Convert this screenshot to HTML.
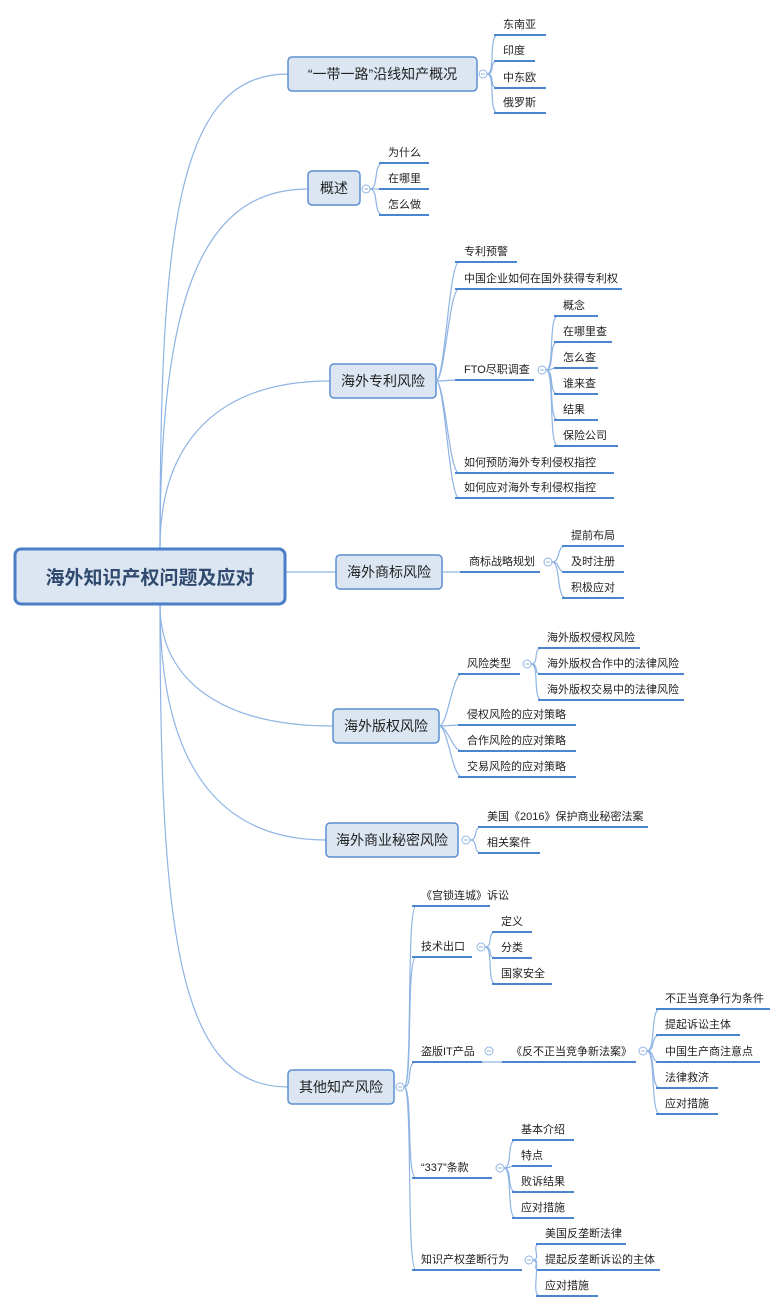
<!DOCTYPE html>
<html><head><meta charset="utf-8"><style>
html,body{margin:0;padding:0;background:#fff;}
svg{display:block;font-family:"Liberation Sans","Noto Sans CJK SC",sans-serif;}
</style></head><body>
<svg id="s" width="784" height="1309" xmlns="http://www.w3.org/2000/svg"></svg>
<script>
var s=document.getElementById('s'),NS='http://www.w3.org/2000/svg';
function el(t,a,txt){var e=document.createElementNS(NS,t);for(var k in a)e.setAttribute(k,a[k]);if(txt!==undefined)e.textContent=txt;s.appendChild(e);return e;}
var LC='#8fb4e3',UC='#4a86d0';
function path(d){el('path',{d:d,fill:'none',stroke:LC,'stroke-width':1.2});}
function conn(px,py,x1,uy){path('M'+px+' '+py+' C'+(px+9)+' '+py+','+(x1-6)+' '+uy+','+(x1+4)+' '+uy);}
function leaf(x1,x2,uy,t){el('line',{x1:x1,y1:uy,x2:x2,y2:uy,stroke:UC,'stroke-width':2});el('text',{x:x1+9,y:uy-7,'font-size':11,fill:'#222'},t);}
function circ(cx,cy){el('circle',{cx:cx,cy:cy,r:4,fill:'#fff',stroke:LC,'stroke-width':1});el('line',{x1:cx-2,y1:cy,x2:cx+2,y2:cy,stroke:LC,'stroke-width':1});}
function box(x,y,w,h,t){el('rect',{x:x,y:y,width:w,height:h,rx:4,fill:'#dce6f2',stroke:'#5b8fd0','stroke-width':1.5});el('text',{x:x+w/2,y:y+h/2+5,'font-size':14,fill:'#222','text-anchor':'middle'},t);}
function group(px,py,x1,items){items.forEach(function(it){conn(px,py,x1,it[2]);leaf(x1,it[1],it[2],it[0]);});}

// root connectors
var R=[[74,288],[189,308],[381,330],[726,333],[840,326],[1087,288]];
R.forEach(function(r){var y=r[0],x=r[1];var sy=y<577?548:605;path('M160 '+sy+' C160 '+(y<577?y+ (577-y)*0.3:y-(y-577)*0.3)+','+(x-110)+' '+y+','+x+' '+y);});
path('M286 572 L336 572');

// root
el('rect',{x:15,y:549,width:270,height:55,rx:6,fill:'#dce6f2',stroke:'#4a7fc8','stroke-width':3});
el('text',{x:150,y:584,'font-size':19,'font-weight':'bold',fill:'#2f4a6e','text-anchor':'middle'},'海外知识产权问题及应对');

// 1
box(288,57,189,34,'“一带一路”沿线知产概况');circ(483,74);
group(487,74,494,[['东南亚',546,35],['印度',535,61],['中东欧',546,88],['俄罗斯',546,113]]);
// 2
box(308,171,52,34,'概述');circ(366,189);
group(370,189,379,[['为什么',429,163],['在哪里',429,189],['怎么做',429,215]]);
// 3
box(330,364,106,34,'海外专利风险');
group(436,381,455,[['专利预警',517,262],['中国企业如何在国外获得专利权',622,289],['FTO尽职调查',534,380],['如何预防海外专利侵权指控',614,473],['如何应对海外专利侵权指控',614,498]]);
circ(542,370);
group(546,370,554,[['概念',598,316],['在哪里查',612,342],['怎么查',598,368],['谁来查',598,394],['结果',598,420],['保险公司',618,446]]);
// 4
box(336,555,106,34,'海外商标风险');
path('M442 572 L460 572');leaf(460,540,572,'商标战略规划');circ(548,562);
group(552,562,562,[['提前布局',624,546],['及时注册',624,572],['积极应对',624,598]]);
// 5
box(333,709,106,34,'海外版权风险');
group(439,726,458,[['风险类型',520,674],['侵权风险的应对策略',576,725],['合作风险的应对策略',576,751],['交易风险的应对策略',576,777]]);
circ(527,664);
group(531,664,538,[['海外版权侵权风险',640,648],['海外版权合作中的法律风险',684,674],['海外版权交易中的法律风险',684,700]]);
// 6
box(326,823,132,34,'海外商业秘密风险');circ(466,840);
group(470,840,478,[['美国《2016》保护商业秘密法案',648,827],['相关案件',540,853]]);
// 7
box(288,1070,106,34,'其他知产风险');circ(400,1087);
group(404,1087,412,[['《宫锁连城》诉讼',490,906],['技术出口',472,957],['盗版IT产品',482,1062],['“337”条款',492,1178],['知识产权垄断行为',522,1270]]);
circ(481,947);group(485,947,492,[['定义',532,932],['分类',532,958],['国家安全',552,984]]);
circ(489,1051);path('M482 1062 L502 1062');leaf(502,636,1062,'《反不正当竞争新法案》');circ(643,1051);
group(647,1051,656,[['不正当竞争行为条件',770,1009],['提起诉讼主体',740,1035],['中国生产商注意点',760,1062],['法律救济',718,1088],['应对措施',718,1114]]);
circ(500,1168);group(504,1168,512,[['基本介绍',574,1140],['特点',552,1166],['败诉结果',574,1192],['应对措施',574,1218]]);
circ(529,1260);group(533,1260,536,[['美国反垄断法律',626,1244],['提起反垄断诉讼的主体',660,1270],['应对措施',598,1296]]);
</script>
</body></html>
